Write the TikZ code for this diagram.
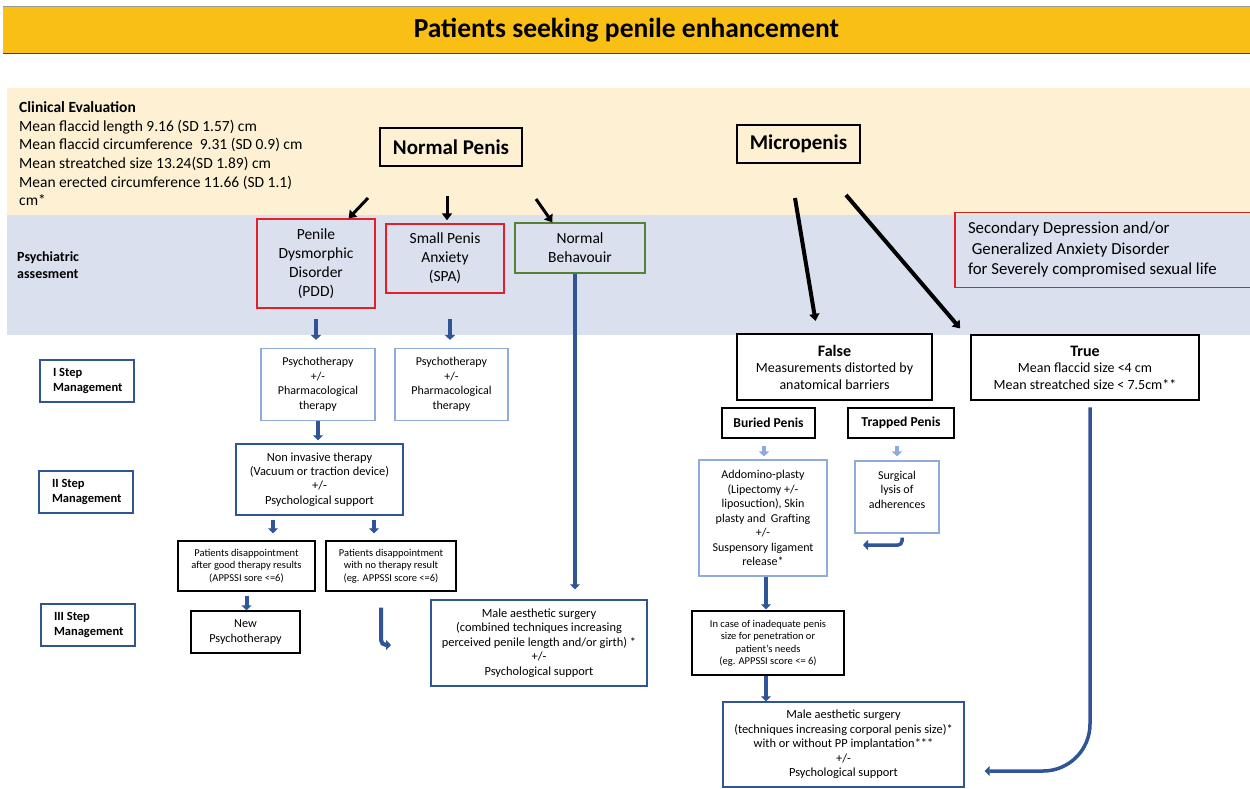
\documentclass[tikz,border=0pt]{standalone}
\usepackage{fontspec}
\setmainfont{Carlito}
\usepackage{xcolor}
\usepackage{tikz}
\usetikzlibrary{arrows.meta}
\usetikzlibrary{positioning}
\definecolor{titlebar}{RGB}{249,191,20}
\definecolor{beige}{RGB}{254,240,211}
\definecolor{greyblue}{RGB}{218,224,237}
\definecolor{boxred}{RGB}{226,32,40}
\definecolor{boxgreen}{RGB}{84,130,53}
\definecolor{darkblue}{RGB}{47,85,151}
\definecolor{lightblue}{RGB}{143,170,220}
\newcommand{\fs}[2]{\fontsize{#1}{#2}\selectfont}

\begin{document}
\begin{tikzpicture}[x=1pt,y=-1pt,
	box/.style={draw,rectangle,align=center,inner sep=0pt,line width=1.4pt},
	redbox/.style={box,draw=boxred,font=\fs{15.5}{19}},
	bluebox/.style={box,draw=darkblue,font=\fs{12.4}{14.5}},
	lightbox/.style={box,draw=lightblue,line width=1.1pt,font=\fs{12}{14.5}},
	stepbox/.style={box,draw=darkblue,align=flush left,text width=68pt,inner xsep=13pt,minimum height=42pt,font=\bfseries\fs{12.5}{15}},
	bigbox/.style={box,line width=2.5pt,font=\fs{14}{16.5}},
	blackarrow/.style={line width=3pt,-{Triangle[length=7pt,width=10pt]}},
	bluearrow/.style={darkblue,line width=4pt,-{Triangle[length=5pt,width=10pt]}},
	lightarrow/.style={lightblue,line width=4pt,-{Triangle[length=5pt,width=10pt]}}]
	\useasboundingbox (0,0) rectangle (1250,788);
	% bands
	\fill[beige] (7,88) rectangle (1250,215);
	\fill[greyblue] (7,215) rectangle (1250,335);
	\node[fill=titlebar,minimum width=1247pt,minimum height=46pt,inner sep=0pt,font=\bfseries\fs{27.5}{30}] (title) at (626.5,30) {Patients seeking penile enhancement};
	\draw[black!40,line width=0.8pt] (title.north west) -- (title.north east);
	\draw[black!75,line width=1.2pt] (title.south west) -- (title.south east);

	\node[anchor=north west,align=flush left,inner sep=0pt,font=\fs{15.5}{18.6}] (clin) at (19,101.5) {\textbf{Clinical Evaluation}\\Mean flaccid length 9.16 (SD 1.57) cm\\Mean flaccid circumference\ \ 9.31 (SD 0.9) cm\\Mean streatched size 13.24(SD 1.89) cm\\Mean erected circumference 11.66 (SD 1.1)\\cm*};
	\node[anchor=north west,align=flush left,inner sep=0pt,font=\bfseries\fs{14}{17}] (psych) at (17,251) {Psychiatric\\assesment};

	\node[box,minimum width=142pt,minimum height=38pt,font=\bfseries\fs{21}{24}] (np) at (451,147) {Normal Penis};
	\node[box,minimum width=123pt,minimum height=38pt,font=\bfseries\fs{21}{24}] (mp) at (798.5,144) {Micropenis};

	\node[redbox,minimum width=118pt,minimum height=89pt] (pdd) at (316,263.5) {Penile\\Dysmorphic\\Disorder\\(PDD)};
	\node[redbox,minimum width=118pt,minimum height=69pt] (spa) at (445,258.5) {Small Penis\\Anxiety\\(SPA)};
	\node[redbox,draw=boxgreen,minimum width=130pt,minimum height=50pt] (nb) at (580,248) {Normal\\Behavouir};
	\node[redbox,align=flush left,text width=281pt,inner xsep=13pt,minimum height=75pt,font=\fs{16.8}{20.5}] (sec) at (1108.5,250) {Secondary Depression and/or\\\ Generalized Anxiety Disorder\\for Severely compromised sexual life};

	\node[stepbox] (step1) at (87,381) {I Step\\Management};
	\node[stepbox] (step2) at (86,492) {II Step\\Management};
	\node[stepbox] (step3) at (88,625) {III Step\\Management};

	\node[lightbox,minimum width=114pt,minimum height=72pt] (psy1) at (318,384.5) {Psychotherapy\\+/-\\Pharmacological\\therapy};
	\node[lightbox,minimum width=113pt,minimum height=72pt] (psy2) at (451.5,384.5) {Psychotherapy\\+/-\\Pharmacological\\therapy};
	\node[bluebox,minimum width=167pt,minimum height=71pt] (noninv) at (319.5,479.5) {Non invasive therapy\\(Vacuum or traction device)\\+/-\\Psychological support};
	\node[box,minimum width=137pt,minimum height=50pt,font=\fs{10.5}{12.5}] (patA) at (246.5,566) {Patients disappointment\\after good therapy results\\(APPSSI sore <=6)};
	\node[box,minimum width=130pt,minimum height=50pt,font=\fs{10.5}{12.5}] (patB) at (391,566) {Patients disappointment\\with no therapy result\\(eg. APPSSI score <=6)};
	\node[box,minimum width=109pt,minimum height=42pt,font=\fs{12.2}{15}] (newpsy) at (245.5,632) {New\\Psychotherapy};
	\node[bluebox,minimum width=216pt,minimum height=86pt] (male1) at (539,643) {Male aesthetic surgery\\(combined techniques increasing\\perceived penile length and/or girth) *\\+/-\\Psychological support};

	\node[bigbox,minimum width=195pt,minimum height=66pt] (false) at (834.5,367) {{\bfseries\fs{16}{17}False}\\Measurements distorted by\\anatomical barriers};
	\node[bigbox,minimum width=228pt,minimum height=65pt] (true) at (1085,367.5) {{\bfseries\fs{16}{17}True}\\Mean flaccid size <4 cm\\Mean streatched size < 7.5cm**};
	\node[box,minimum width=93pt,minimum height=30pt,font=\bfseries\fs{13.6}{15}] (buried) at (768.5,423) {Buried Penis};
	\node[box,minimum width=106pt,minimum height=30pt,font=\bfseries\fs{13.6}{15}] (trapped) at (901,423) {Trapped Penis};
	\node[lightbox,minimum width=128pt,minimum height=116pt] (addo) at (763,518) {Addomino-plasty\\(Lipectomy +/-\\liposuction), Skin\\plasty and\ \ Grafting\\+/-\\Suspensory ligament\\release*};
	\node[lightbox,minimum width=84pt,minimum height=72pt] (surg) at (897,497) {Surgical\\lysis of\\adherences\\\mbox{}};
	\node[box,minimum width=152pt,minimum height=64pt,font=\fs{10.5}{12.5}] (incase) at (768,643) {In case of inadequate penis\\size for penetration or\\patient’s needs\\(eg. APPSSI score <= 6)};
	\node[bluebox,minimum width=241pt,minimum height=85pt] (male2) at (843.5,744.5) {Male aesthetic surgery\\(techniques increasing corporal penis size)*\\with or without PP implantation***\\+/-\\Psychological support};

	% arrows
	\coordinate (np a) at (368,198);
	\coordinate (np b) at (447,196);
	\coordinate (np c) at (536,199);
	\coordinate (mp a) at (795,198);
	\coordinate (mp b) at (846,195);
	\coordinate (hook b) at (391,645);
	\coordinate (hook s) at (863,545);
	\draw[blackarrow] (np a) -- ([xshift=-27pt]pdd.north east);
	\draw[blackarrow,shorten >=3pt] (np b) -- (np b |- spa.north);
	\draw[blackarrow] (np c) -- ([xshift=38pt]nb.north west);
	\draw[blackarrow,line width=4pt,shorten >=12pt] (mp a) -- ([xshift=-17pt]false.north);
	\draw[blackarrow,line width=4pt,shorten >=7pt] (mp b) -- ([xshift=-5pt]true.north west);

	\draw[bluearrow,shorten <=10pt,shorten >=8pt] (pdd.south) -- (pdd.south |- psy1.north);
	\draw[bluearrow,shorten <=25pt,shorten >=8pt] ([xshift=5pt]spa.south) -- ([xshift=5pt]spa.south |- psy2.north);
	\draw[bluearrow,shorten >=3pt] (psy1.south) -- (psy1.south |- noninv.north);
	\draw[bluearrow,shorten <=4pt,shorten >=7pt] ([xshift=-46.5pt]noninv.south) -- ([xshift=-46.5pt]noninv.south |- patA.north);
	\draw[bluearrow,shorten <=4pt,shorten >=7pt] ([xshift=54.5pt]noninv.south) -- ([xshift=54.5pt]noninv.south |- patB.north);
	\draw[bluearrow,shorten <=4pt] (patA.south) -- (patA.south |- newpsy.north);
	\draw[bluearrow,rounded corners=5pt,shorten <=16pt] ([xshift=-10pt]patB.south) |- (hook b);
	\draw[bluearrow,shorten >=10pt] ([xshift=-5pt]nb.south) -- ([xshift=-5pt]nb.south |- male1.north);

	\draw[lightarrow,shorten <=7pt,shorten >=3pt] ([xshift=-4.5pt]buried.south) -- ([xshift=-4.5pt]buried.south |- addo.north);
	\draw[lightarrow,shorten <=7pt,shorten >=4pt] ([xshift=-4pt]trapped.south) -- ([xshift=-4pt]trapped.south |- surg.north);
	\draw[bluearrow,line width=3.5pt,rounded corners=4pt,shorten <=4pt] ([xshift=5pt]surg.south) |- (hook s);
	\draw[bluearrow,shorten >=1pt] ([xshift=3pt]addo.south) -- ([xshift=3pt]addo.south |- incase.north);
	\draw[bluearrow] ([xshift=-2pt]incase.south) -- ([xshift=-2pt]incase.south |- male2.north);
	\draw[bluearrow,line width=3.5pt,rounded corners=47pt,shorten <=6pt,shorten >=20pt] ([xshift=5pt]true.south) |- ([yshift=-26.5pt]male2.east);
\end{tikzpicture}
\end{document}
